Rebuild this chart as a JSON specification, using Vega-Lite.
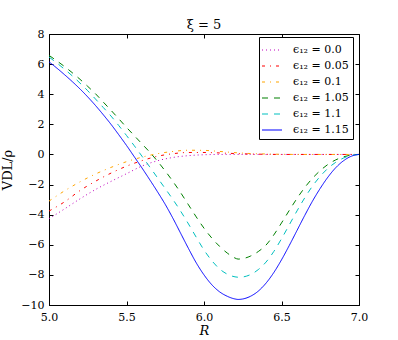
{
  "$schema": "https://vega.github.io/schema/vega-lite/v6.json",
  "autosize": {"type": "none"},
  "padding": {"left": 49, "top": 34, "right": 39, "bottom": 35},
  "width": 310,
  "height": 271,
  "title": {"text": "ξ = 5", "font": "DejaVu Serif", "fontSize": 13, "fontWeight": "normal", "offset": -4, "anchor": "middle", "color": "black"},
  "config": {
    "view": {"stroke": "black", "strokeWidth": 1},
    "axis": {"domainColor": "black", "tickColor": "black", "labelColor": "black", "titleColor": "black", "labelFont": "DejaVu Serif", "labelFontSize": 11, "titleFont": "DejaVu Serif", "titleFontSize": 13, "titleFontWeight": "normal", "grid": false, "tickSize": -4},
    "legend": {"orient": "none", "legendX": 210, "legendY": 3, "strokeColor": "black", "fillColor": "white", "padding": 4, "cornerRadius": 0, "labelFont": "DejaVu Serif", "labelFontSize": 11, "labelColor": "black", "symbolType": "M-1.25,0H1.25", "symbolSize": 256, "symbolStrokeWidth": 1.2, "labelOffset": 12, "rowPadding": 2}
  },
  "datasets": {
    "curves": [
      {"R":5.0,"V":-4.27,"eps":"ϵ₁₂ = 0.0"},{"R":5.1,"V":-3.62,"eps":"ϵ₁₂ = 0.0"},{"R":5.2,"V":-2.95,"eps":"ϵ₁₂ = 0.0"},{"R":5.3,"V":-2.33,"eps":"ϵ₁₂ = 0.0"},{"R":5.4,"V":-1.79,"eps":"ϵ₁₂ = 0.0"},{"R":5.5,"V":-1.28,"eps":"ϵ₁₂ = 0.0"},{"R":5.6,"V":-0.77,"eps":"ϵ₁₂ = 0.0"},{"R":5.7,"V":-0.42,"eps":"ϵ₁₂ = 0.0"},{"R":5.8,"V":-0.2,"eps":"ϵ₁₂ = 0.0"},{"R":5.9,"V":-0.08,"eps":"ϵ₁₂ = 0.0"},{"R":6.0,"V":-0.02,"eps":"ϵ₁₂ = 0.0"},{"R":6.1,"V":0,"eps":"ϵ₁₂ = 0.0"},{"R":6.5,"V":0,"eps":"ϵ₁₂ = 0.0"},{"R":7.0,"V":0,"eps":"ϵ₁₂ = 0.0"},
      {"R":5.0,"V":-3.76,"eps":"ϵ₁₂ = 0.05"},{"R":5.1,"V":-3.15,"eps":"ϵ₁₂ = 0.05"},{"R":5.2,"V":-2.4,"eps":"ϵ₁₂ = 0.05"},{"R":5.3,"V":-1.78,"eps":"ϵ₁₂ = 0.05"},{"R":5.4,"V":-1.24,"eps":"ϵ₁₂ = 0.05"},{"R":5.5,"V":-0.78,"eps":"ϵ₁₂ = 0.05"},{"R":5.6,"V":-0.41,"eps":"ϵ₁₂ = 0.05"},{"R":5.7,"V":-0.12,"eps":"ϵ₁₂ = 0.05"},{"R":5.8,"V":0.05,"eps":"ϵ₁₂ = 0.05"},{"R":5.9,"V":0.13,"eps":"ϵ₁₂ = 0.05"},{"R":6.0,"V":0.13,"eps":"ϵ₁₂ = 0.05"},{"R":6.1,"V":0.1,"eps":"ϵ₁₂ = 0.05"},{"R":6.2,"V":0.06,"eps":"ϵ₁₂ = 0.05"},{"R":6.3,"V":0.03,"eps":"ϵ₁₂ = 0.05"},{"R":6.4,"V":0.01,"eps":"ϵ₁₂ = 0.05"},{"R":6.5,"V":0,"eps":"ϵ₁₂ = 0.05"},{"R":7.0,"V":0,"eps":"ϵ₁₂ = 0.05"},
      {"R":5.0,"V":-3.1,"eps":"ϵ₁₂ = 0.1"},{"R":5.1,"V":-2.42,"eps":"ϵ₁₂ = 0.1"},{"R":5.2,"V":-1.82,"eps":"ϵ₁₂ = 0.1"},{"R":5.3,"V":-1.3,"eps":"ϵ₁₂ = 0.1"},{"R":5.4,"V":-0.86,"eps":"ϵ₁₂ = 0.1"},{"R":5.5,"V":-0.48,"eps":"ϵ₁₂ = 0.1"},{"R":5.6,"V":-0.18,"eps":"ϵ₁₂ = 0.1"},{"R":5.7,"V":0.05,"eps":"ϵ₁₂ = 0.1"},{"R":5.8,"V":0.2,"eps":"ϵ₁₂ = 0.1"},{"R":5.9,"V":0.28,"eps":"ϵ₁₂ = 0.1"},{"R":6.0,"V":0.27,"eps":"ϵ₁₂ = 0.1"},{"R":6.1,"V":0.2,"eps":"ϵ₁₂ = 0.1"},{"R":6.2,"V":0.12,"eps":"ϵ₁₂ = 0.1"},{"R":6.3,"V":0.06,"eps":"ϵ₁₂ = 0.1"},{"R":6.4,"V":0.03,"eps":"ϵ₁₂ = 0.1"},{"R":6.5,"V":0.01,"eps":"ϵ₁₂ = 0.1"},{"R":6.6,"V":0,"eps":"ϵ₁₂ = 0.1"},{"R":7.0,"V":0,"eps":"ϵ₁₂ = 0.1"},
      {"R":5.0,"V":6.58,"eps":"ϵ₁₂ = 1.05"},{"R":5.05,"V":6.22,"eps":"ϵ₁₂ = 1.05"},{"R":5.1,"V":5.84,"eps":"ϵ₁₂ = 1.05"},{"R":5.15,"V":5.43,"eps":"ϵ₁₂ = 1.05"},{"R":5.2,"V":4.99,"eps":"ϵ₁₂ = 1.05"},{"R":5.25,"V":4.52,"eps":"ϵ₁₂ = 1.05"},{"R":5.3,"V":4.03,"eps":"ϵ₁₂ = 1.05"},{"R":5.35,"V":3.48,"eps":"ϵ₁₂ = 1.05"},{"R":5.4,"V":2.93,"eps":"ϵ₁₂ = 1.05"},{"R":5.45,"V":2.37,"eps":"ϵ₁₂ = 1.05"},{"R":5.5,"V":1.8,"eps":"ϵ₁₂ = 1.05"},{"R":5.55,"V":1.25,"eps":"ϵ₁₂ = 1.05"},{"R":5.6,"V":0.7,"eps":"ϵ₁₂ = 1.05"},{"R":5.65,"V":0.15,"eps":"ϵ₁₂ = 1.05"},{"R":5.7,"V":-0.45,"eps":"ϵ₁₂ = 1.05"},{"R":5.75,"V":-1.1,"eps":"ϵ₁₂ = 1.05"},{"R":5.8,"V":-1.8,"eps":"ϵ₁₂ = 1.05"},{"R":5.85,"V":-2.55,"eps":"ϵ₁₂ = 1.05"},{"R":5.9,"V":-3.35,"eps":"ϵ₁₂ = 1.05"},{"R":5.95,"V":-4.15,"eps":"ϵ₁₂ = 1.05"},{"R":6.0,"V":-4.9,"eps":"ϵ₁₂ = 1.05"},{"R":6.05,"V":-5.55,"eps":"ϵ₁₂ = 1.05"},{"R":6.1,"V":-6.1,"eps":"ϵ₁₂ = 1.05"},{"R":6.15,"V":-6.55,"eps":"ϵ₁₂ = 1.05"},{"R":6.2,"V":-6.88,"eps":"ϵ₁₂ = 1.05"},{"R":6.22,"V":-6.95,"eps":"ϵ₁₂ = 1.05"},{"R":6.25,"V":-6.92,"eps":"ϵ₁₂ = 1.05"},{"R":6.3,"V":-6.75,"eps":"ϵ₁₂ = 1.05"},{"R":6.35,"V":-6.45,"eps":"ϵ₁₂ = 1.05"},{"R":6.4,"V":-6.02,"eps":"ϵ₁₂ = 1.05"},{"R":6.45,"V":-5.35,"eps":"ϵ₁₂ = 1.05"},{"R":6.5,"V":-4.55,"eps":"ϵ₁₂ = 1.05"},{"R":6.55,"V":-3.72,"eps":"ϵ₁₂ = 1.05"},{"R":6.6,"V":-2.92,"eps":"ϵ₁₂ = 1.05"},{"R":6.65,"V":-2.2,"eps":"ϵ₁₂ = 1.05"},{"R":6.7,"V":-1.58,"eps":"ϵ₁₂ = 1.05"},{"R":6.75,"V":-1.07,"eps":"ϵ₁₂ = 1.05"},{"R":6.8,"V":-0.66,"eps":"ϵ₁₂ = 1.05"},{"R":6.85,"V":-0.36,"eps":"ϵ₁₂ = 1.05"},{"R":6.9,"V":-0.16,"eps":"ϵ₁₂ = 1.05"},{"R":6.95,"V":-0.04,"eps":"ϵ₁₂ = 1.05"},{"R":7.0,"V":0,"eps":"ϵ₁₂ = 1.05"},
      {"R":5.0,"V":6.47,"eps":"ϵ₁₂ = 1.1"},{"R":5.05,"V":6.08,"eps":"ϵ₁₂ = 1.1"},{"R":5.1,"V":5.66,"eps":"ϵ₁₂ = 1.1"},{"R":5.15,"V":5.22,"eps":"ϵ₁₂ = 1.1"},{"R":5.2,"V":4.74,"eps":"ϵ₁₂ = 1.1"},{"R":5.25,"V":4.23,"eps":"ϵ₁₂ = 1.1"},{"R":5.3,"V":3.68,"eps":"ϵ₁₂ = 1.1"},{"R":5.35,"V":3.12,"eps":"ϵ₁₂ = 1.1"},{"R":5.4,"V":2.55,"eps":"ϵ₁₂ = 1.1"},{"R":5.45,"V":1.92,"eps":"ϵ₁₂ = 1.1"},{"R":5.5,"V":1.26,"eps":"ϵ₁₂ = 1.1"},{"R":5.55,"V":0.58,"eps":"ϵ₁₂ = 1.1"},{"R":5.6,"V":-0.12,"eps":"ϵ₁₂ = 1.1"},{"R":5.65,"V":-0.83,"eps":"ϵ₁₂ = 1.1"},{"R":5.7,"V":-1.55,"eps":"ϵ₁₂ = 1.1"},{"R":5.75,"V":-2.27,"eps":"ϵ₁₂ = 1.1"},{"R":5.8,"V":-3.0,"eps":"ϵ₁₂ = 1.1"},{"R":5.85,"V":-3.78,"eps":"ϵ₁₂ = 1.1"},{"R":5.9,"V":-4.62,"eps":"ϵ₁₂ = 1.1"},{"R":5.95,"V":-5.5,"eps":"ϵ₁₂ = 1.1"},{"R":6.0,"V":-6.35,"eps":"ϵ₁₂ = 1.1"},{"R":6.05,"V":-7.05,"eps":"ϵ₁₂ = 1.1"},{"R":6.1,"V":-7.6,"eps":"ϵ₁₂ = 1.1"},{"R":6.15,"V":-7.95,"eps":"ϵ₁₂ = 1.1"},{"R":6.2,"V":-8.13,"eps":"ϵ₁₂ = 1.1"},{"R":6.23,"V":-8.16,"eps":"ϵ₁₂ = 1.1"},{"R":6.25,"V":-8.14,"eps":"ϵ₁₂ = 1.1"},{"R":6.3,"V":-7.98,"eps":"ϵ₁₂ = 1.1"},{"R":6.35,"V":-7.65,"eps":"ϵ₁₂ = 1.1"},{"R":6.4,"V":-7.15,"eps":"ϵ₁₂ = 1.1"},{"R":6.45,"V":-6.45,"eps":"ϵ₁₂ = 1.1"},{"R":6.5,"V":-5.6,"eps":"ϵ₁₂ = 1.1"},{"R":6.55,"V":-4.68,"eps":"ϵ₁₂ = 1.1"},{"R":6.6,"V":-3.75,"eps":"ϵ₁₂ = 1.1"},{"R":6.65,"V":-2.88,"eps":"ϵ₁₂ = 1.1"},{"R":6.7,"V":-2.1,"eps":"ϵ₁₂ = 1.1"},{"R":6.75,"V":-1.45,"eps":"ϵ₁₂ = 1.1"},{"R":6.8,"V":-0.92,"eps":"ϵ₁₂ = 1.1"},{"R":6.85,"V":-0.52,"eps":"ϵ₁₂ = 1.1"},{"R":6.9,"V":-0.24,"eps":"ϵ₁₂ = 1.1"},{"R":6.95,"V":-0.06,"eps":"ϵ₁₂ = 1.1"},{"R":7.0,"V":0,"eps":"ϵ₁₂ = 1.1"},
      {"R":5.0,"V":6.15,"eps":"ϵ₁₂ = 1.15"},{"R":5.05,"V":5.74,"eps":"ϵ₁₂ = 1.15"},{"R":5.1,"V":5.3,"eps":"ϵ₁₂ = 1.15"},{"R":5.15,"V":4.84,"eps":"ϵ₁₂ = 1.15"},{"R":5.2,"V":4.35,"eps":"ϵ₁₂ = 1.15"},{"R":5.25,"V":3.82,"eps":"ϵ₁₂ = 1.15"},{"R":5.3,"V":3.25,"eps":"ϵ₁₂ = 1.15"},{"R":5.35,"V":2.64,"eps":"ϵ₁₂ = 1.15"},{"R":5.4,"V":2.0,"eps":"ϵ₁₂ = 1.15"},{"R":5.45,"V":1.31,"eps":"ϵ₁₂ = 1.15"},{"R":5.5,"V":0.6,"eps":"ϵ₁₂ = 1.15"},{"R":5.55,"V":-0.15,"eps":"ϵ₁₂ = 1.15"},{"R":5.6,"V":-0.9,"eps":"ϵ₁₂ = 1.15"},{"R":5.65,"V":-1.68,"eps":"ϵ₁₂ = 1.15"},{"R":5.7,"V":-2.48,"eps":"ϵ₁₂ = 1.15"},{"R":5.75,"V":-3.32,"eps":"ϵ₁₂ = 1.15"},{"R":5.8,"V":-4.25,"eps":"ϵ₁₂ = 1.15"},{"R":5.85,"V":-5.25,"eps":"ϵ₁₂ = 1.15"},{"R":5.9,"V":-6.25,"eps":"ϵ₁₂ = 1.15"},{"R":5.95,"V":-7.2,"eps":"ϵ₁₂ = 1.15"},{"R":6.0,"V":-8.0,"eps":"ϵ₁₂ = 1.15"},{"R":6.05,"V":-8.65,"eps":"ϵ₁₂ = 1.15"},{"R":6.1,"V":-9.12,"eps":"ϵ₁₂ = 1.15"},{"R":6.15,"V":-9.42,"eps":"ϵ₁₂ = 1.15"},{"R":6.2,"V":-9.6,"eps":"ϵ₁₂ = 1.15"},{"R":6.22,"V":-9.63,"eps":"ϵ₁₂ = 1.15"},{"R":6.25,"V":-9.6,"eps":"ϵ₁₂ = 1.15"},{"R":6.3,"V":-9.42,"eps":"ϵ₁₂ = 1.15"},{"R":6.35,"V":-9.08,"eps":"ϵ₁₂ = 1.15"},{"R":6.4,"V":-8.55,"eps":"ϵ₁₂ = 1.15"},{"R":6.45,"V":-7.85,"eps":"ϵ₁₂ = 1.15"},{"R":6.5,"V":-7.0,"eps":"ϵ₁₂ = 1.15"},{"R":6.55,"V":-6.05,"eps":"ϵ₁₂ = 1.15"},{"R":6.6,"V":-5.05,"eps":"ϵ₁₂ = 1.15"},{"R":6.65,"V":-4.05,"eps":"ϵ₁₂ = 1.15"},{"R":6.7,"V":-3.1,"eps":"ϵ₁₂ = 1.15"},{"R":6.75,"V":-2.25,"eps":"ϵ₁₂ = 1.15"},{"R":6.8,"V":-1.5,"eps":"ϵ₁₂ = 1.15"},{"R":6.85,"V":-0.88,"eps":"ϵ₁₂ = 1.15"},{"R":6.9,"V":-0.42,"eps":"ϵ₁₂ = 1.15"},{"R":6.95,"V":-0.12,"eps":"ϵ₁₂ = 1.15"},{"R":7.0,"V":0,"eps":"ϵ₁₂ = 1.15"}
    ]
  },
  "data": {"name": "curves"},
  "layer": [
    {
      "mark": {"type": "line", "strokeWidth": 1, "interpolate": "monotone", "clip": true},
      "encoding": {
        "x": {"field": "R", "type": "quantitative", "scale": {"domain": [5, 7], "nice": false, "zero": false}, "axis": {"orient": "bottom", "values": [5, 5.5, 6, 6.5, 7], "format": ".1f", "labelPadding": 10, "title": "R", "titleFontStyle": "italic", "titlePadding": 2, "labelFlush": false}},
        "y": {"field": "V", "type": "quantitative", "scale": {"domain": [-10, 8], "nice": false, "zero": false}, "axis": {"orient": "left", "values": [-10, -8, -6, -4, -2, 0, 2, 4, 6, 8], "labelPadding": 9, "title": "VDL/ρ", "titlePadding": 6, "labelFlush": false}},
        "color": {"field": "eps", "type": "nominal", "sort": null, "scale": {"domain": ["ϵ₁₂ = 0.0", "ϵ₁₂ = 0.05", "ϵ₁₂ = 0.1", "ϵ₁₂ = 1.05", "ϵ₁₂ = 1.1", "ϵ₁₂ = 1.15"], "range": ["#bf00bf", "#ff0000", "#ffa500", "#008000", "#00bfbf", "#0000ff"]}, "legend": {"title": null}},
        "strokeDash": {"field": "eps", "type": "nominal", "sort": null, "scale": {"domain": ["ϵ₁₂ = 0.0", "ϵ₁₂ = 0.05", "ϵ₁₂ = 0.1", "ϵ₁₂ = 1.05", "ϵ₁₂ = 1.1", "ϵ₁₂ = 1.15"], "range": [[1, 3], [3, 5, 1, 5], [3, 5, 1, 5], [6, 6], [6, 6], [1, 0]]}, "legend": {"title": null}},
        "order": {"field": "R", "type": "quantitative"}
      }
    },
    {
      "mark": {"type": "line", "opacity": 0},
      "encoding": {
        "x": {"field": "R", "type": "quantitative", "scale": {"domain": [5, 7], "nice": false, "zero": false}, "axis": {"orient": "top", "values": [5, 5.5, 6, 6.5, 7], "labels": false, "title": null, "domain": false}},
        "y": {"field": "V", "type": "quantitative", "scale": {"domain": [-10, 8], "nice": false, "zero": false}, "axis": {"orient": "right", "values": [-10, -8, -6, -4, -2, 0, 2, 4, 6, 8], "labels": false, "title": null, "domain": false}},
        "detail": {"field": "eps"}
      }
    }
  ],
  "resolve": {"axis": {"x": "independent", "y": "independent"}}
}
